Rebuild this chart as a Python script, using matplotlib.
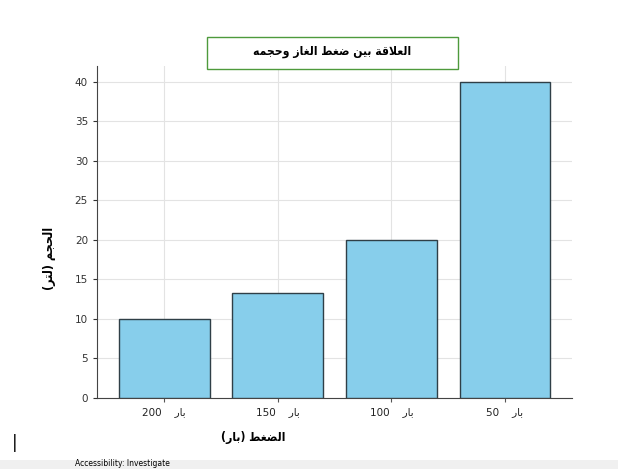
import matplotlib
matplotlib.use("Agg")
import matplotlib.pyplot as plt
from matplotlib.patches import Rectangle

# ---------------- 数据 ----------------
pressures = [200, 150, 100, 50]          # 压力 (بار)
volumes = [10, 13.33, 20, 40]            # 体积 (لتر)
title_text = "العلاقة بين ضغط الغاز وحجمه"
xlabel_text = "الضغط (بار)"
ylabel_text = "الحجم (لتر)"
unit_text = "بار"

# ---------------- 阿拉伯文字形连写 + 右到左显示 ----------------
FORMS = {
    'ا': (0xFE8D, 0xFE8E, None, None), 'ب': (0xFE8F, 0xFE90, 0xFE91, 0xFE92),
    'ة': (0xFE93, 0xFE94, None, None), 'ت': (0xFE95, 0xFE96, 0xFE97, 0xFE98),
    'ج': (0xFE9D, 0xFE9E, 0xFE9F, 0xFEA0), 'ح': (0xFEA1, 0xFEA2, 0xFEA3, 0xFEA4),
    'ر': (0xFEAD, 0xFEAE, None, None), 'ز': (0xFEAF, 0xFEB0, None, None),
    'ض': (0xFEBD, 0xFEBE, 0xFEBF, 0xFEC0), 'ط': (0xFEC1, 0xFEC2, 0xFEC3, 0xFEC4),
    'ع': (0xFEC9, 0xFECA, 0xFECB, 0xFECC), 'غ': (0xFECD, 0xFECE, 0xFECF, 0xFED0),
    'ق': (0xFED5, 0xFED6, 0xFED7, 0xFED8), 'ل': (0xFEDD, 0xFEDE, 0xFEDF, 0xFEE0),
    'م': (0xFEE1, 0xFEE2, 0xFEE3, 0xFEE4), 'ن': (0xFEE5, 0xFEE6, 0xFEE7, 0xFEE8),
    'ه': (0xFEE9, 0xFEEA, 0xFEEB, 0xFEEC), 'و': (0xFEED, 0xFEEE, None, None),
    'ي': (0xFEF1, 0xFEF2, 0xFEF3, 0xFEF4),
}


def rtl(s):
    out = []
    i = 0
    prev_joins = False
    while i < len(s):
        c = s[i]
        if c not in FORMS:
            out.append(c)
            prev_joins = False
            i += 1
            continue
        # لا 连字
        if c == 'ل' and i + 1 < len(s) and s[i + 1] == 'ا':
            out.append(chr(0xFEFC if prev_joins else 0xFEFB))
            prev_joins = False
            i += 2
            continue
        iso, fin, ini, med = FORMS[c]
        next_ok = ini is not None and i + 1 < len(s) and s[i + 1] in FORMS
        if prev_joins and next_ok:
            g = med
        elif prev_joins:
            g = fin
        elif next_ok:
            g = ini
        else:
            g = iso
        out.append(chr(g))
        prev_joins = next_ok
        i += 1
    vis = ''.join(reversed(out))
    return vis.translate(str.maketrans('()', ')('))


plt.rcParams['font.family'] = ['DejaVu Sans']

fig = plt.figure(figsize=(6.18, 4.69), dpi=100)
ax = fig.add_axes([0.157, 0.1514, 0.7686, 0.708])

x = range(len(pressures))
labels = [f"{p}    " + rtl(unit_text) for p in pressures]
ax.bar(x, volumes, width=0.8, color='#87CEEB', edgecolor='#2f3f47',
       linewidth=1.0, zorder=3)
ax.set_xticks(list(x))
ax.set_xticklabels(labels, fontsize=7.5, color='#222222')
ax.set_ylim(0, 42)
ax.set_yticks(range(0, 41, 5))
ax.tick_params(axis='y', labelsize=7.5, colors='#333333', length=3)
ax.tick_params(axis='x', length=3, colors='#555555', labelcolor='#222222')
ax.grid(True, color='#e3e3e3', linewidth=0.8, zorder=0)
ax.set_axisbelow(True)
for side in ['top', 'right']:
    ax.spines[side].set_visible(False)
for side in ['left', 'bottom']:
    ax.spines[side].set_color('#444444')

ax.set_xlabel(rtl(xlabel_text), fontsize=8.7, fontweight='bold',
              fontstretch='condensed')
ax.xaxis.set_label_coords(0.328, -0.10)
ax.set_ylabel(rtl(ylabel_text), fontsize=9, fontweight='bold',
              fontstretch='condensed')
ax.yaxis.set_label_coords(-0.086, 0.42)

# 标题框
fig.patches.append(Rectangle((207 / 618, (469 - 69) / 469), 251 / 618, 32 / 469,
                             transform=fig.transFigure, facecolor='white',
                             edgecolor='#4e9a3c', linewidth=1.0))
fig.text(332 / 618, 1 - 52 / 469, rtl(title_text), ha='center', va='center',
         fontsize=8.7, fontweight='bold', fontstretch='condensed')

# 底部状态栏 (截图残留)
fig.patches.append(Rectangle((0, 0), 1, 9 / 469, transform=fig.transFigure,
                             facecolor='#f0f0f0', edgecolor='none'))
fig.text(12 / 618, 1 - 443 / 469, '|', fontsize=12, va='center')
fig.text(75 / 618, 1 / 469, 'Accessibility: Investigate', fontsize=5.5,
         va='bottom')

fig.savefig('out.png', dpi=100)
